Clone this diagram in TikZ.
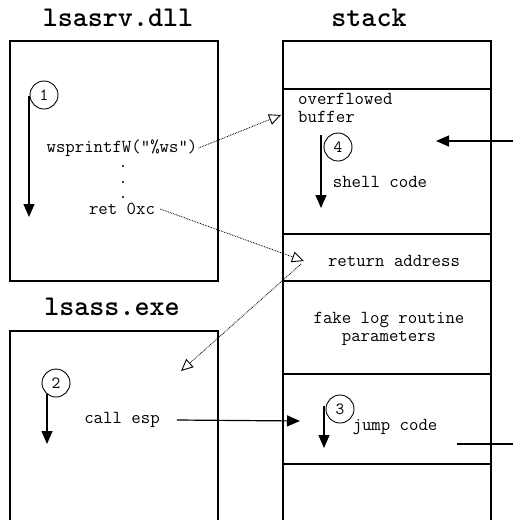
\documentclass[tikz,border=0pt]{standalone}
\usepackage{fontspec}
\usetikzlibrary{arrows.meta,positioning}

\begin{document}
\begin{tikzpicture}[x=1pt,y=-1pt,
  box/.style={draw,line width=1.2pt,minimum width=208pt,inner sep=0pt},
  title/.style={font=\ttfamily\bfseries\fontsize{28.6}{28.6}\selectfont},
  code/.style={font=\ttfamily\fontsize{18.3}{18.3}\selectfont,inner sep=1pt},
  num/.style={draw,circle,line width=0.9pt,minimum size=28pt,inner sep=0pt,font=\ttfamily\fontsize{17}{17}\selectfont},
  flow/.style={line width=1.2pt,-{Triangle[length=13pt,width=11pt]}},
  hop/.style={line width=0.8pt,dash pattern=on 0.8pt off 0.9pt,-{Triangle[open,length=12pt,width=11pt,line width=0.9pt]}}]
  \useasboundingbox (0,0) rectangle (512,520);

  % titles
  \node[title] (dlltitle) at (118,18) {lsasrv.dll};
  \node[title] (stktitle) at (369,18) {stack};
  \node[title] (exetitle) at (112,307) {lsass.exe};

  % module boxes
  \node[box,minimum height=240pt] (lsasrv) at (114,161) {};
  \node[box,minimum height=209pt] (lsass) at (114,435.5) {};

  % stack slots, top to bottom
  \node[box,minimum height=48pt] (stktop) at (387,65) {};
  \node[box,minimum height=145pt] (stkbuf) at (387,161.5) {};
  \node[box,minimum height=47pt] (stkret) at (387,257.5) {};
  \node[box,minimum height=93pt] (stkparm) at (387,327.5) {};
  \node[box,minimum height=90pt] (stkjmp) at (387,419) {};
  \node[box,minimum height=76pt] (stkbot) at (387,502) {};

  % code text
  \node[code] (wsp) at (122,148) {wsprintfW("\%ws")};
  \foreach \y in {166,182,197}
    \fill (123,\y) circle (1.1pt);
  \node[code] (ret) at (122,209) {ret 0xc};
  \node[code] (callesp) at (122,420) {call esp};
  \node[code,align=left,anchor=west] (buf) at (297,108) {overflowed\\buffer};
  \node[code] (shell) at (380,182) {shell code};
  \node[code] (retaddr) at (394,261) {return address};
  \node[code,align=center] (parm) at (389,329) {fake log routine\\parameters};
  \node[code] (jmp) at (395,427) {jump code};

  % step numbers
  \node[num] (n1) at (44,95) {1};
  \node[num] (n2) at (56,383) {2};
  \node[num] (n3) at (340,409) {3};
  \node[num] (n4) at (338,147) {4};

  % execution order inside each block
  \coordinate (f1a) at (29,96);   \coordinate (f1b) at (29,217);
  \coordinate (f2a) at (47,394);  \coordinate (f2b) at (47,444);
  \coordinate (f3a) at (324,406); \coordinate (f3b) at (324,448);
  \coordinate (f4a) at (321,135); \coordinate (f4b) at (321,208);
  \draw[flow] (f1a) -- (f1b);
  \draw[flow] (f2a) -- (f2b);
  \draw[flow] (f3a) -- (f3b);
  \draw[flow] (f4a) -- (f4b);

  % pointers
  \coordinate (bufin) at (281,115);
  \coordinate (retin) at (304,261);
  \coordinate (retout) at (301,264);
  \coordinate (exein) at (181,371);
  \draw[hop] (wsp.east) -- (bufin);
  \draw[hop] ([xshift=4pt]ret.east) -- (retin);
  \draw[hop] (retout) -- (exein);

  % jumps
  \coordinate (jmpin) at (300,421);
  \coordinate (jmpout) at (457,444);
  \coordinate (shellin) at (436,141);
  \draw[flow] ([xshift=16pt]callesp.east) -- (jmpin);
  \draw[flow] (jmpout) -- (530,444) -- (530,141) -- (shellin);
\end{tikzpicture}
\end{document}
